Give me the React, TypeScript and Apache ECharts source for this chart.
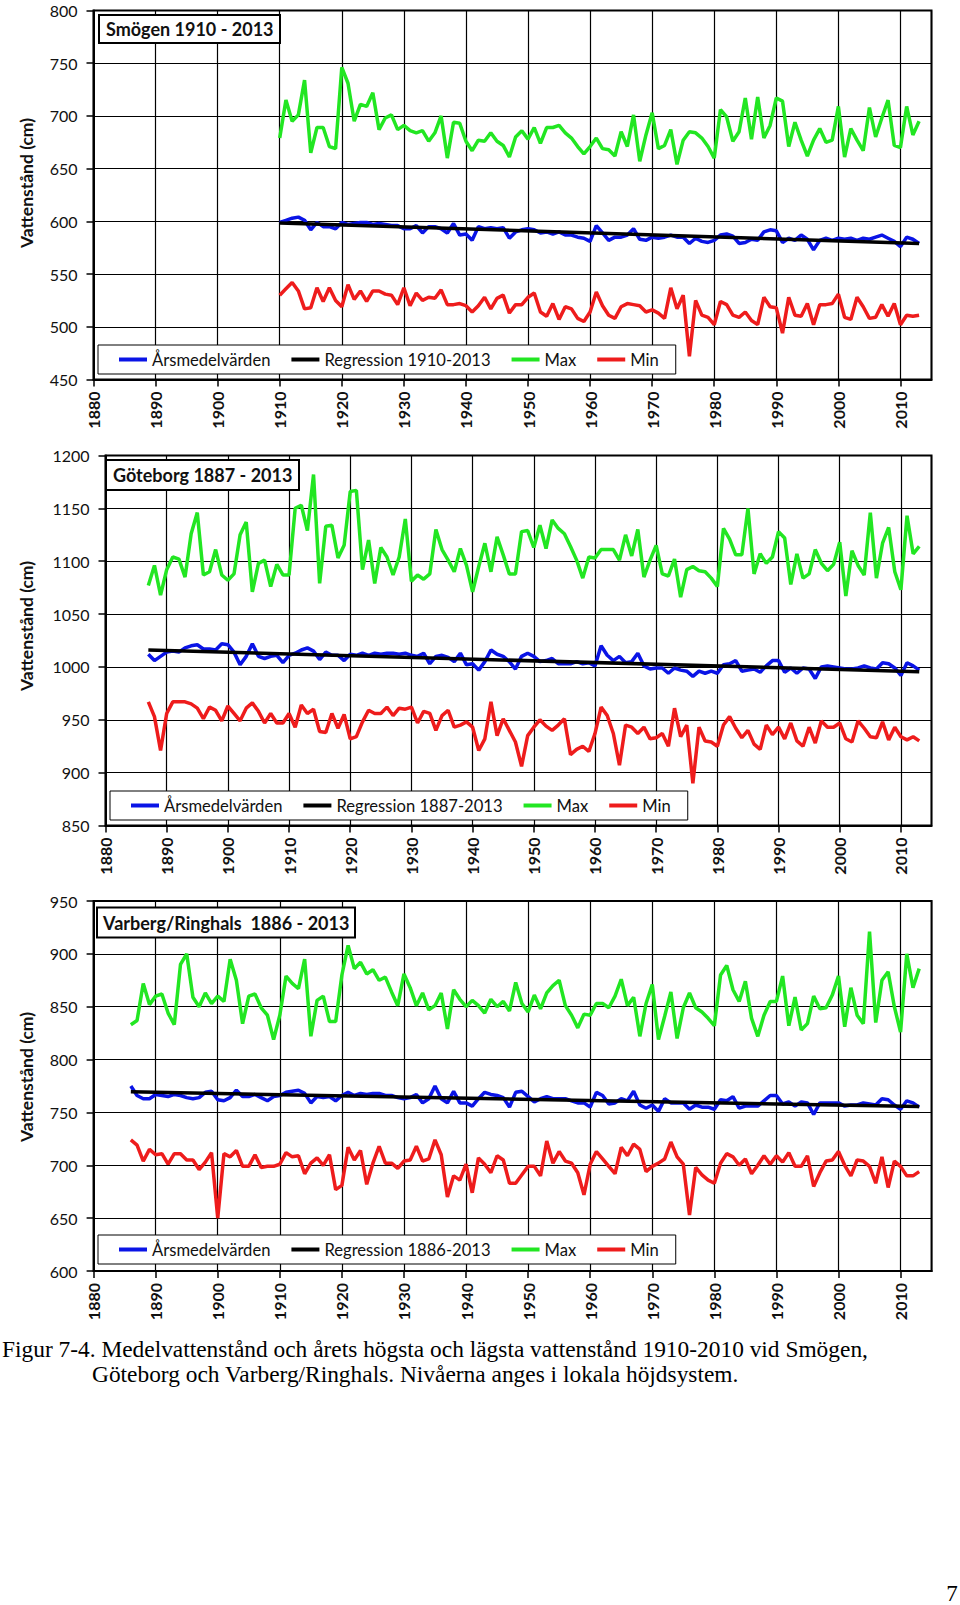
import React, { useEffect, useRef } from "react";
import * as echarts from "echarts";

// ---------- DATA ----------
const smogenStart = 1910;
const smogenMean = [
  599, 601, 603, 604, 601, 592, 599, 595, 595, 593,
  599, 597, 598, 599, 599, 597, 598, 597, 596, 596,
  593, 593, 596, 589, 595, 595, 593, 589, 598, 587,
  588, 582, 595, 593, 594, 593, 594, 584, 590, 592,
  593, 592, 589, 590, 588, 590, 587, 587, 585, 584,
  581, 596, 589, 582, 585, 585, 587, 593, 583, 582,
  585, 584, 585, 587, 585, 585, 579, 584, 581, 580,
  582, 587, 588, 586, 579, 580, 583, 582, 590, 592,
  591, 580, 584, 582, 587, 583, 573, 582, 584, 582,
  584, 583, 584, 582, 584, 583, 585, 587, 584, 581,
  576, 585, 583, 579,
];
const smogenMax = [
  679, 715, 695, 701, 734, 665, 689, 689, 671, 669,
  746, 731, 695, 711, 709, 722, 687, 698, 701, 687,
  691, 686, 684, 686, 676, 684, 700, 660, 694, 693,
  676, 667, 677, 676, 684, 676, 672, 661, 680, 686,
  678, 689, 674, 689, 689, 691, 684, 679, 671, 664,
  671, 679, 669, 668, 662, 685, 671, 701, 657, 682,
  703, 669, 672, 687, 654, 677, 685, 684, 679, 671,
  660, 706, 699, 676, 685, 717, 678, 718, 679, 691,
  717, 714, 671, 694, 677, 662, 677, 688, 675, 677,
  709, 661, 688, 677, 667, 708, 680, 698, 715, 672,
  670, 709, 682, 695,
];
const smogenMin = [
  530, 536, 542, 534, 517, 518, 537, 524, 537, 525,
  519, 540, 526, 534, 524, 534, 534, 531, 530, 521,
  537, 520, 532, 525, 528, 527, 535, 521, 521, 522,
  520, 514, 520, 528, 517, 527, 530, 513, 521, 521,
  528, 532, 514, 510, 522, 507, 519, 517, 508, 505,
  514, 533, 520, 511, 508, 519, 522, 521, 520, 514,
  516, 513, 508, 537, 517, 530, 472, 525, 511, 509,
  502, 524, 521, 511, 509, 514, 506, 502, 528, 519,
  518, 494, 528, 511, 510, 522, 502, 521, 521, 522,
  531, 509, 507, 528, 519, 508, 509, 521, 510, 522,
  502, 511, 510, 511,
];
const smogenRegression = [598.5, 579];

const gbgStart = 1887;
const gbgMean = [
  1012, 1006, 1010,
  1014, 1015, 1014, 1018, 1020, 1021, 1017, 1017, 1016, 1022,
  1021, 1014, 1002, 1010, 1022, 1010, 1008, 1010, 1011, 1004,
  1011, 1013, 1016, 1018, 1015, 1007, 1014, 1011, 1011, 1006,
  1012, 1011, 1013, 1011, 1013, 1012, 1013, 1013, 1012, 1013,
  1011, 1010, 1013, 1003, 1010, 1011, 1009, 1005, 1013, 1002,
  1003, 997, 1005, 1016, 1012, 1010, 1005, 998, 1010, 1013,
  1010, 1005, 1006, 1008, 1003, 1003, 1003, 1005, 1003, 1004,
  1001, 1020, 1011, 1006, 1010, 1004, 1005, 1013, 1001, 998,
  999, 999, 994, 999, 997, 996, 991, 996, 994, 996,
  994, 1002, 1003, 1006, 996, 997, 998, 995, 1001, 1006,
  1006, 995, 999, 994, 999, 998, 989, 1000, 1001, 1000,
  999, 998, 998, 999, 1001, 999, 998, 1004, 1003, 999,
  992, 1004, 1001, 997,
];
const gbgMax = [
  1077, 1096, 1068,
  1092, 1104, 1102, 1085, 1126, 1146, 1087, 1090, 1111, 1087,
  1082, 1088, 1125, 1137, 1071, 1098, 1101, 1076, 1097, 1087,
  1087, 1150, 1153, 1129, 1182, 1079, 1133, 1134, 1103, 1115,
  1166, 1167, 1092, 1120, 1079, 1113, 1104, 1087, 1104, 1140,
  1081, 1087, 1083, 1088, 1130, 1111, 1101, 1090, 1112, 1096,
  1071, 1095, 1117, 1090, 1123, 1106, 1088, 1088, 1128, 1129,
  1113, 1134, 1112, 1139, 1131, 1126, 1114, 1101, 1084, 1104,
  1103, 1111, 1111, 1111, 1101, 1125, 1105, 1130, 1085, 1101,
  1115, 1088, 1086, 1102, 1066, 1092, 1095, 1091, 1090, 1084,
  1076, 1131, 1121, 1106, 1106, 1150, 1088, 1107, 1098, 1104,
  1128, 1122, 1078, 1107, 1084, 1088, 1111, 1098, 1091, 1097,
  1118, 1067, 1110, 1096, 1087, 1146, 1084, 1117, 1132, 1090,
  1073, 1143, 1107, 1114,
];
const gbgMin = [
  967, 953, 921,
  956, 967, 967, 967, 965, 961, 951, 962, 959, 949,
  963, 956, 949, 961, 966, 958, 947, 956, 947, 947,
  956, 943, 964, 956, 960, 939, 938, 956, 942, 955,
  932, 934, 948, 959, 956, 956, 962, 954, 961, 960,
  962, 947, 958, 956, 940, 954, 959, 943, 945, 948,
  943, 921, 932, 967, 935, 951, 940, 929, 906, 935,
  943, 950, 944, 940, 945, 951, 917, 922, 925, 920,
  937, 962, 954, 937, 907, 945, 943, 937, 943, 932,
  933, 937, 925, 961, 934, 945, 890, 943, 930, 929,
  925, 945, 953, 942, 933, 940, 927, 922, 945, 936,
  943, 932, 947, 930, 925, 943, 928, 949, 943, 943,
  947, 932, 929, 949, 942, 934, 933, 948, 931, 943,
  934, 931, 934, 930,
];
const gbgRegression = [1016, 995.5];

const varStart = 1886;
const varMean = [
  775, 766, 763, 763,
  767, 766, 765, 767, 766, 764, 763, 764, 769, 770,
  762, 761, 764, 771, 765, 765, 767, 764, 761, 765,
  766, 769, 770, 771, 768, 759, 765, 764, 765, 761,
  766, 769, 766, 768, 767, 768, 768, 766, 766, 764,
  763, 764, 767, 759, 763, 775, 763, 759, 770, 759,
  759, 756, 763, 769, 767, 766, 764, 755, 769, 770,
  765, 760, 763, 765, 763, 763, 763, 761, 759, 759,
  755, 769, 766, 758, 759, 763, 761, 770, 757, 754,
  757, 751, 763, 759, 759, 759, 753, 757, 755, 755,
  753, 762, 761, 765, 754, 756, 756, 756, 761, 766,
  766, 758, 760, 756, 760, 759, 748, 759, 759, 759,
  759, 756, 757, 757, 759, 758, 757, 763, 762, 757,
  753, 761, 759, 755,
];
const varMax = [
  833, 837, 872, 852,
  860, 862, 844, 833, 890, 900, 859, 850, 863, 853,
  860, 855, 895, 875, 834, 860, 862, 849, 842, 819,
  842, 879, 872, 867, 895, 822, 856, 860, 836, 836,
  880, 908, 886, 892, 881, 885, 875, 878, 864, 851,
  881, 868, 851, 863, 847, 851, 863, 829, 866, 857,
  850, 856, 851, 844, 857, 850, 855, 846, 873, 853,
  845, 861, 848, 863, 870, 875, 851, 842, 830, 843,
  842, 853, 853, 849, 860, 876, 851, 859, 822, 853,
  871, 819, 841, 864, 820, 849, 863, 849, 845, 839,
  832, 880, 889, 866, 855, 874, 839, 822, 842, 855,
  855, 879, 832, 859, 828, 834, 860, 848, 849, 861,
  879, 831, 868, 842, 834, 921, 835, 875, 883, 850,
  826, 900, 868, 886,
];
const varMin = [
  724, 719, 704, 715,
  710, 711, 701, 711, 711, 705, 705, 696, 703, 712,
  650, 711, 708, 714, 699, 699, 710, 698, 699, 699,
  701, 712, 708, 709, 692, 702, 707, 700, 710, 677,
  681, 717, 705, 714, 682, 702, 718, 702, 702, 697,
  704, 705, 718, 704, 706, 724, 710, 670, 690, 686,
  701, 674, 707, 701, 693, 709, 705, 683, 683, 691,
  699, 699, 690, 723, 702, 713, 704, 702, 693, 672,
  701, 713, 706, 699, 692, 717, 709, 720, 715, 694,
  699, 702, 706, 722, 708, 701, 653, 698, 691, 686,
  683, 702, 711, 708, 700, 706, 692, 700, 709, 701,
  709, 703, 712, 699, 699, 709, 680, 693, 704, 705,
  713, 700, 690, 705, 704, 699, 683, 708, 679, 704,
  699, 690, 690, 694,
];
const varRegression = [769.5, 755.5];

const endYear = 2013;
const xRange = [1880, 2015];
const xStep = 10;
const yStep = 50;
const smogenY = [450, 800];
const gbgY = [850, 1200];
const varY = [600, 950];

const titles = ["Smögen 1910 - 2013", "Göteborg 1887 - 2013", "Varberg/Ringhals  1886 - 2013"];
const regressionNames = ["Regression 1910-2013", "Regression 1887-2013", "Regression 1886-2013"];
const meanName = "Årsmedelvärden";
const maxName = "Max";
const minName = "Min";
const yAxisName = "Vattenstånd (cm)";
const captionLines = [
  "Figur 7-4. Medelvattenstånd och årets högsta och lägsta vattenstånd 1910-2010 vid Smögen,",
  "Göteborg och Varberg/Ringhals. Nivåerna anges i lokala höjdsystem.",
];
const pageNumber = "7";

// ---------- STYLE ----------
const FONT = "Lato, 'Open Sans', sans-serif";
const SERIF = "'Liberation Serif', serif";
const BLUE = "#0a14e6";
const GREEN = "#22e622";
const RED = "#ee1c1c";
const BLACK = "#000000";

const panels = [
  { start: smogenStart, mean: smogenMean, max: smogenMax, min: smogenMin, reg: smogenRegression, y: smogenY,
    grid: { left: 93.5, top: 10.5, width: 838, height: 369 },
    legend: { left: 98, top: 345 }, title: { left: 99, top: 15, pad: [3, 7] }, nameY: 183 },
  { start: gbgStart, mean: gbgMean, max: gbgMax, min: gbgMin, reg: gbgRegression, y: gbgY,
    grid: { left: 105.5, top: 455.5, width: 826, height: 370 },
    legend: { left: 110, top: 791 }, title: { left: 106, top: 459.5, pad: [4.5, 7] }, nameY: 626 },
  { start: varStart, mean: varMean, max: varMax, min: varMin, reg: varRegression, y: varY,
    grid: { left: 93.6, top: 901, width: 838, height: 370 },
    legend: { left: 98, top: 1235 }, title: { left: 97, top: 907, pad: [4.5, 6] }, nameY: 1077 },
];

const toPairs = (start: number, vals: number[]) => vals.map((v, i) => [start + i, v]);

export default function App() {
  const ref = useRef<HTMLDivElement>(null);
  useEffect(() => {
    if (!ref.current) return;
    const chart = echarts.init(ref.current, null, { renderer: "svg" });

    const grid: any[] = [];
    const xAxis: any[] = [];
    const yAxis: any[] = [];
    const series: any[] = [];
    const legend: any[] = [];
    const title: any[] = [];
    const graphic: any[] = [];

    panels.forEach((p, i) => {
      grid.push({ ...p.grid, show: true, borderColor: BLACK, borderWidth: 2, backgroundColor: "#fff" });
      xAxis.push({
        type: "value", gridIndex: i, min: xRange[0], max: xRange[1], interval: xStep,
        axisLine: { show: true, onZero: false, lineStyle: { color: BLACK, width: 2 } },
        axisTick: { show: true, inside: false, length: 7, lineStyle: { color: BLACK, width: 1.5 } },
        splitLine: { show: true, lineStyle: { color: BLACK, width: 1.2 } },
        axisLabel: {
          rotate: 90, margin: 12, fontFamily: FONT, fontSize: 16, fontWeight: "bold", color: "#111",
          showMaxLabel: false, formatter: (v: number) => String(v),
        },
      });
      yAxis.push({
        type: "value", gridIndex: i, min: p.y[0], max: p.y[1], interval: yStep,
        axisLine: { show: true, lineStyle: { color: BLACK, width: 2 } },
        axisTick: { show: true, inside: false, length: 7, lineStyle: { color: BLACK, width: 1.5 } },
        splitLine: { show: true, lineStyle: { color: BLACK, width: 1.2 } },
        axisLabel: { margin: 16, fontFamily: FONT, fontSize: 16, color: "#111", formatter: (v: number) => String(v) },
      });
      const base = { type: "line", xAxisIndex: i, yAxisIndex: i, symbol: "none", showSymbol: false, silent: true };
      series.push(
        { ...base, name: meanName, data: toPairs(p.start, p.mean), lineStyle: { color: BLUE, width: 3.5 }, itemStyle: { color: BLUE } },
        { ...base, name: regressionNames[i], data: [[p.start, p.reg[0]], [endYear, p.reg[1]]], lineStyle: { color: BLACK, width: 3.5 }, itemStyle: { color: BLACK } },
        { ...base, name: maxName, data: toPairs(p.start, p.max), lineStyle: { color: GREEN, width: 3.5 }, itemStyle: { color: GREEN } },
        { ...base, name: minName, data: toPairs(p.start, p.min), lineStyle: { color: RED, width: 3.5 }, itemStyle: { color: RED } },
      );
      legend.push({
        left: p.legend.left, top: p.legend.top, orient: "horizontal",
        data: [meanName, regressionNames[i], maxName, minName],
        icon: "rect", itemWidth: 28, itemHeight: 4, itemGap: 21,
        selectedMode: false, backgroundColor: "#fff", borderColor: BLACK, borderWidth: 1,
        padding: [6, 17, 6, 21],
        textStyle: { fontFamily: FONT, fontSize: 16.6, color: "#111", lineHeight: 17 },
      });
      title.push({
        text: titles[i], left: p.title.left, top: p.title.top, padding: p.title.pad,
        backgroundColor: "#fff", borderColor: BLACK, borderWidth: 2,
        textStyle: { fontFamily: FONT, fontSize: 18, fontWeight: "bold", color: "#111", lineHeight: 22 },
      });
      graphic.push({
        type: "text", x: 26, y: p.nameY, rotation: Math.PI / 2,
        style: { text: yAxisName, fontFamily: FONT, fontSize: 17.5, fontWeight: "bold", fill: "#111", align: "center", verticalAlign: "middle" },
      });
    });

    graphic.push(
      { type: "text", x: 2, y: 1349, style: { text: captionLines[0], fontFamily: SERIF, fontSize: 23.4, fill: "#000", align: "left", verticalAlign: "middle" } },
      { type: "text", x: 92, y: 1373.5, style: { text: captionLines[1], fontFamily: SERIF, fontSize: 23.4, fill: "#000", align: "left", verticalAlign: "middle" } },
      { type: "text", x: 952, y: 1593, style: { text: pageNumber, fontFamily: SERIF, fontSize: 23, fill: "#000", align: "center", verticalAlign: "middle" } },
    );

    chart.setOption({
      animation: false,
      backgroundColor: "#fff",
      grid, xAxis, yAxis, series, legend, title, graphic,
    });
    return () => chart.dispose();
  }, []);
  return <div ref={ref} style={{ position: "absolute", left: 0, top: 0, width: 960, height: 1605 }} />;
}
